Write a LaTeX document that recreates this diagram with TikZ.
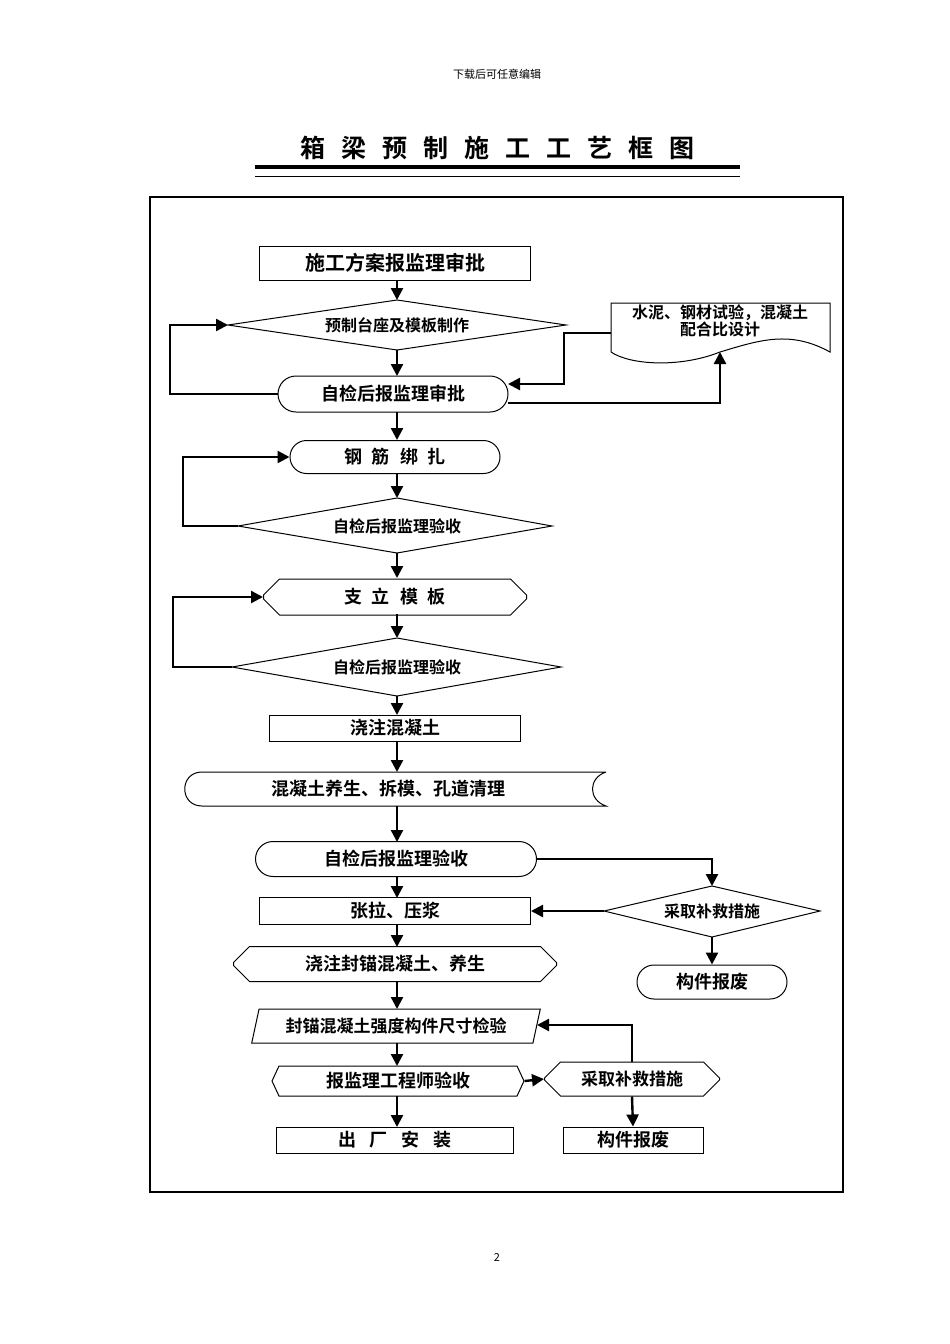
\documentclass[tikz,border=0pt]{standalone}
\usepackage{fontspec}
\setmainfont{Noto Sans CJK SC}
\newfontfamily\cjkb{Noto Sans CJK SC Bold}
\usetikzlibrary{shapes.geometric,shapes.misc,shapes.symbols,arrows.meta}
\begin{document}
\begin{tikzpicture}[x=1pt,y=-1pt,
  box/.style={draw,line width=1pt,inner sep=0pt,font=\cjkb\fontsize{18}{20}\selectfont,anchor=center},
  sq/.style={box,rectangle},
  rr/.style={box,rounded rectangle},
  dtext/.style={inner sep=0pt,font=\cjkb\fontsize{16}{18}\selectfont},
  dline/.style={line width=1pt},
  ch/.style={box,chamfered rectangle,chamfered rectangle xsep=8pt,chamfered rectangle ysep=8pt},
  arr/.style={line width=2.4pt,-{Triangle[length=12pt,width=12pt]}}]
\useasboundingbox (0,0) rectangle (950,1344);
\node[font=\fontsize{11}{13}\selectfont] (hdr) at (497,74) {下载后可任意编辑};
\node[font=\cjkb\fontsize{25}{27}\selectfont] (ttl) at (497,148) {箱\hspace{16pt}梁\hspace{16pt}预\hspace{16pt}制\hspace{16pt}施\hspace{16pt}工\hspace{16pt}工\hspace{16pt}艺\hspace{16pt}框\hspace{16pt}图};
\draw[line width=3.5pt] (255,167) -- (740,167);
\draw[line width=1pt] (255,176) -- (740,176);
\draw[line width=1.3pt] (150,197) rectangle (843,1192);
\node[font=\fontsize{11}{13}\selectfont] (pg) at (497,1257) {2};

\node[sq,minimum width=271pt,minimum height=34pt,font=\cjkb\fontsize{20}{22}\selectfont] (A) at (395,263) {施工方案报监理审批};
% diamond B
\draw[dline] (228,325) -- (397,300) -- (566,325) -- (397,350) -- cycle;
\node[dtext] (B) at (397,325) {预制台座及模板制作};
\coordinate (Bw) at (228,325);
% document shape
\draw[dline] (611,303) -- (830,303) -- (830,352) .. controls (790,330) and (760,340) .. (720,352) .. controls (680,368) and (630,365) .. (611,352) -- cycle;
\node[font=\cjkb\fontsize{16}{17}\selectfont,align=center] (C) at (720,321) {水泥、钢材试验，混凝土\\配合比设计};
\coordinate (Cl) at (611,333);
\coordinate (Cb) at (720,352);
\node[rr,minimum width=230pt,minimum height=36pt] (D) at (393,394) {自检后报监理审批};
\node[rr,minimum width=210pt,minimum height=33pt] (E) at (395,457) {钢\hspace{10pt}筋\hspace{10pt}绑\hspace{10pt}扎};
% diamond F
\draw[dline] (238,526) -- (397,498) -- (552,526) -- (397,553) -- cycle;
\node[dtext] (F) at (397,526) {自检后报监理验收};
\coordinate (Fw) at (238,526);
\node[ch,minimum width=263pt,minimum height=36pt] (G) at (395,597) {支\hspace{10pt}立\hspace{10pt}模\hspace{10pt}板};
% diamond H
\draw[dline] (232,667) -- (397,638) -- (561,667) -- (397,696) -- cycle;
\node[dtext] (H) at (397,667) {自检后报监理验收};
\coordinate (Hw) at (232,667);
\node[sq,minimum width=251pt,minimum height=26pt] (I) at (395,728) {浇注混凝土};
% stored data
\draw[dline] (606,772) -- (202,772) .. controls (179,772) and (179,806) .. (202,806) -- (606,806) .. controls (588,800) and (588,778) .. (606,772);
\node[font=\cjkb\fontsize{18}{20}\selectfont] (J) at (388,789) {混凝土养生、拆模、孔道清理};
\coordinate (Jt) at (397,772); \coordinate (Jb) at (397,806);
\node[rr,minimum width=281pt,minimum height=35pt] (K) at (396,859) {自检后报监理验收};
\node[sq,minimum width=271pt,minimum height=27pt] (L) at (395,911) {张拉、压浆};
% diamond M
\draw[dline] (604,911) -- (712,886) -- (820,911) -- (712,937) -- cycle;
\node[dtext] (M) at (712,911) {采取补救措施};
\coordinate (Mw) at (604,911); \coordinate (Mn) at (712,886); \coordinate (Ms) at (712,937);
\node[rr,minimum width=150pt,minimum height=34pt] (N) at (712,982) {构件报废};
\node[ch,minimum width=323pt,minimum height=35pt] (O) at (395,964) {浇注封锚混凝土、养生};
\node[box,trapezium,trapezium left angle=70,trapezium right angle=110,minimum width=289pt,minimum height=34pt,trapezium stretches=true,font=\cjkb\fontsize{17}{19}\selectfont] (P) at (396,1026) {封锚混凝土强度构件尺寸检验};
\node[box,signal,signal to=east and west,signal pointer angle=130,minimum width=252pt,minimum height=30pt] (Q) at (398,1081) {报监理工程师验收};
\node[ch,minimum width=175pt,minimum height=34pt,font=\cjkb\fontsize{17}{19}\selectfont] (R) at (632,1079) {采取补救措施};
\node[sq,minimum width=237pt,minimum height=26pt] (S) at (395,1140) {出\hspace{14pt}厂\hspace{14pt}安\hspace{14pt}装};
\node[sq,minimum width=140pt,minimum height=26pt] (T) at (633,1140) {构件报废};

% main flow
\draw[arr] (397,280) -- (397,300);
\draw[arr] (397,350) -- (397,376);
\draw[arr] (397,412) -- (397,440);
\draw[arr] (397,473) -- (397,498);
\draw[arr] (397,553) -- (397,578);
\draw[arr] (397,614) -- (397,638);
\draw[arr] (397,696) -- (397,715);
\draw[arr] (397,741) -- (Jt);
\draw[arr] (Jb) -- (397,842);
\draw[arr] (397,877) -- (397,898);
\draw[arr] (397,925) -- (397,947);
\draw[arr] (397,982) -- (397,1009);
\draw[arr] (397,1043) -- (397,1066);
\draw[arr] (397,1096) -- (397,1127);
% loops
\draw[arr] (D.west) -- (170,394) -- (170,325) -- (Bw);
\draw[arr] (Cl) -- (564,333) -- (564,384) -- (508,384);
\draw[arr] (508,403) -- (720,403) -- (Cb);
\draw[arr] (Fw) -- (183,526) -- (183,457) -- (E.west);
\draw[arr] (Hw) -- (173,667) -- (173,597) -- (G.west);
\draw[arr] (K.east) -- (712,859) -- (Mn);
\draw[arr] (Mw) -- (L.east);
\draw[arr] (Ms) -- (N.north);
\draw[arr] (Q.east) -- (R.west);
\draw[arr] (R.north) -- (632,1025) -- (537,1025);
\draw[arr] (R.south) -- (T.north);
\end{tikzpicture}
\end{document}
